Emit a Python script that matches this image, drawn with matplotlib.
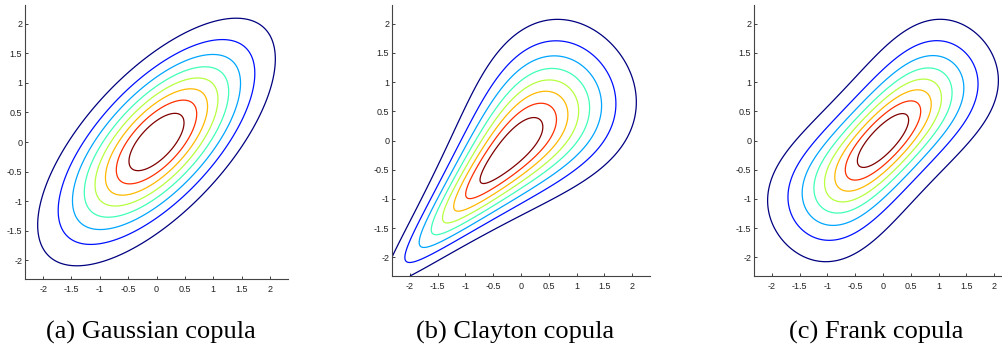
#!/usr/bin/env python3
"""
Contornos de densidad de tres cópulas (Gaussiana, Clayton, Frank)
con marginales normales estándar.
"""
import math
import numpy as np
import matplotlib
matplotlib.use("Agg")
import matplotlib.pyplot as plt

# parámetros de cada cópula
RHO_GAUSS = 0.67
THETA_CLAYTON = 1.6
THETA_FRANK = 4.8

N_NIVELES = 8
LIMITE = 2.32
TICKS = [-2, -1.5, -1, -0.5, 0, 0.5, 1, 1.5, 2]
TICK_LABELS = ["-2", "-1.5", "-1", "-0.5", "0", "0.5", "1", "1.5", "2"]
TITULOS = ["(a) Gaussian copula", "(b) Clayton copula", "(c) Frank copula"]

_erf = np.vectorize(math.erf)


def phi(x):
    return np.exp(-0.5 * x**2) / math.sqrt(2 * math.pi)


def Phi(x):
    return 0.5 * (1 + _erf(x / math.sqrt(2)))


def dens_gauss(x, y, rho):
    q = (x**2 - 2 * rho * x * y + y**2) / (1 - rho**2)
    return np.exp(-q / 2) / (2 * math.pi * math.sqrt(1 - rho**2))


def dens_clayton(x, y, th):
    u, v = Phi(x), Phi(y)
    c = (1 + th) * (u * v) ** (-1 - th) * (u**-th + v**-th - 1) ** (-2 - 1 / th)
    return c * phi(x) * phi(y)


def dens_frank(x, y, th):
    u, v = Phi(x), Phi(y)
    a = 1 - math.exp(-th)
    num = th * a * np.exp(-th * (u + v))
    den = (a - (1 - np.exp(-th * u)) * (1 - np.exp(-th * v))) ** 2
    return num / den * phi(x) * phi(y)


def niveles(z, n):
    # como contour(Z, n) de MATLAB: n niveles equiespaciados entre min y max
    lo, hi = z.min(), z.max()
    return lo + (hi - lo) * np.arange(1, n + 1) / (n + 1)


g = np.linspace(-LIMITE, LIMITE, 401)
X, Y = np.meshgrid(g, g)
superficies = [
    dens_gauss(X, Y, RHO_GAUSS),
    dens_clayton(X, Y, THETA_CLAYTON),
    dens_frank(X, Y, THETA_FRANK),
]

W, H = 1002, 347
fig = plt.figure(figsize=(W / 100, H / 100), dpi=100)
cajas = [(25, 5, 288, 279), (392, 5, 650, 276), (754, 5, 1012, 276)]
centros = [151, 515, 876]

for Z, (x0, y0, x1, y1), titulo, cx in zip(superficies, cajas, TITULOS, centros):
    ax = fig.add_axes([x0 / W, 1 - y1 / H, (x1 - x0) / W, (y1 - y0) / H])
    lv = niveles(Z, N_NIVELES)
    ax.contour(X, Y, Z, levels=lv, cmap="jet", linewidths=0.9)
    ax.set_xlim(-LIMITE, LIMITE)
    ax.set_ylim(-LIMITE, LIMITE)
    ax.set_xticks(TICKS)
    ax.set_xticklabels(TICK_LABELS)
    ax.set_yticks(TICKS)
    ax.set_yticklabels(TICK_LABELS)
    for lado in ("top", "right"):
        ax.spines[lado].set_visible(False)
    for lado in ("left", "bottom"):
        ax.spines[lado].set_color("#444444")
        ax.spines[lado].set_linewidth(0.8)
    ax.tick_params(direction="in", length=2.5, width=0.6, color="#222222",
                   labelsize=6.5, labelcolor="#222222")
    ax.tick_params(axis="y", pad=2)
    ax.tick_params(axis="x", pad=4)
    for t in ax.get_xticklabels() + ax.get_yticklabels():
        t.set_family(["Liberation Sans Narrow", "Liberation Sans"])
    fig.text(cx / W, 1 - 332 / H, titulo, ha="center", va="center",
             family="Liberation Serif", fontsize=19)

fig.savefig("out.png", dpi=100)
